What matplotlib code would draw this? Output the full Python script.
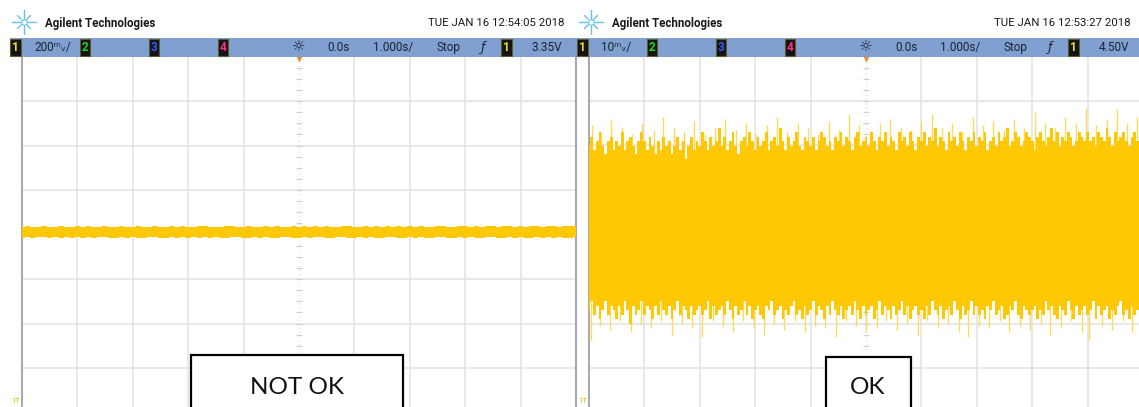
import numpy as np
import matplotlib.pyplot as plt
from matplotlib.patches import Rectangle

W, H = 1139, 407
YELLOW = '#FFC805'
LIGHT = '#FFD95A'

# scope settings (per screen)
left_scale = 200.0   # mV/div
right_scale = 10.0   # mV/div
left_date = 'TUE JAN 16 12:54:05 2018'
right_date = 'TUE JAN 16 12:53:27 2018'
left_vdiv = '200ᵐᵥ/'
right_vdiv = '10ᵐᵥ/'
left_trig = '3.35V'
right_trig = '4.50V'

# left trace envelope (mV), one value per 0.1 s from -5 s to 5 s
left_hi = [34, 36, 33, 35, 37, 34, 32, 36, 35, 33,
           37, 34, 36, 33, 35, 38, 34, 33, 36, 35,
           34, 37, 35, 33, 36, 34, 35, 38, 33, 36,
           35, 34, 37, 36, 33, 35, 34, 36, 38, 35,
           33, 36, 34, 35, 37, 34, 36, 33, 35, 36,
           34, 37, 35, 36, 34, 38, 35, 33, 36, 37,
           35, 34, 36, 33, 37, 35, 36, 34, 38, 35,
           36, 34, 37, 35, 33, 36, 38, 35, 34, 37,
           36, 35, 38, 34, 36, 37, 35, 39, 36, 34,
           37, 35, 38, 36, 34, 37, 36, 35, 38, 36, 37]
left_lo = [-14, -12, -15, -13, -11, -16, -13, -14, -12, -15,
           -13, -16, -12, -14, -13, -11, -15, -14, -12, -16,
           -13, -14, -15, -12, -13, -16, -14, -12, -15, -13,
           -14, -11, -15, -13, -16, -12, -14, -15, -13, -12,
           -15, -14, -12, -16, -13, -14, -15, -12, -13, -16,
           -14, -12, -15, -13, -11, -14, -16, -13, -12, -15,
           -14, -13, -16, -12, -14, -15, -13, -12, -16, -14,
           -13, -15, -12, -14, -16, -13, -12, -15, -14, -13,
           -16, -12, -14, -15, -13, -12, -16, -14, -13, -15,
           -12, -14, -16, -13, -15, -12, -14, -13, -15, -14, -13]

# right trace dense envelope (mV), one value per 0.05 s from -5 s to 5 s
right_hi = [20, 22, 19, 21, 23, 20, 18, 21, 22, 19, 21, 20, 23, 19, 21, 22, 20, 18, 21, 23,
            21, 19, 22, 20, 18, 21, 19, 22, 20, 21, 18, 20, 22, 19, 21, 17, 20, 22, 19, 21,
            20, 23, 21, 19, 22, 20, 21, 24, 20, 22, 19, 21, 23, 20, 18, 21, 22, 20, 23, 21,
            19, 22, 20, 21, 23, 19, 21, 22, 20, 24, 21, 19, 22, 20, 21, 23, 20, 19, 22, 21,
            20, 22, 19, 21, 23, 22, 20, 21, 19, 22, 21, 23, 20, 22, 21, 19, 22, 23, 20, 21,
            22, 20, 23, 21, 19, 22, 21, 23, 20, 22, 21, 19, 23, 21, 22, 20, 23, 21, 19, 22,
            21, 23, 20, 22, 21, 24, 20, 22, 21, 19, 23, 21, 22, 20, 23, 21, 19, 22, 21, 23,
            20, 22, 21, 23, 19, 21, 22, 20, 23, 21, 22, 24, 20, 21, 23, 22, 20, 21, 23, 22,
            21, 19, 22, 23, 21, 20, 22, 24, 21, 23, 20, 22, 21, 23, 22, 20, 21, 23, 22, 21,
            23, 21, 22, 20, 23, 22, 21, 24, 22, 20, 23, 21, 22, 23, 21, 20, 22, 23, 21, 22, 21]
right_lo = [-17, -15, -18, -16, -19, -17, -15, -18, -16, -17, -19, -16, -18, -15, -17, -20, -16, -18, -17, -15,
            -18, -16, -17, -19, -16, -18, -15, -17, -18, -16, -19, -17, -15, -18, -16, -17, -19, -16, -18, -17,
            -16, -18, -17, -15, -19, -16, -18, -17, -16, -18, -15, -17, -19, -16, -18, -17, -15, -18, -16, -19,
            -17, -16, -18, -19, -16, -17, -15, -18, -17, -16, -19, -17, -18, -16, -15, -18, -17, -19, -16, -18,
            -17, -15, -18, -16, -17, -19, -16, -18, -15, -17, -18, -16, -19, -17, -16, -18, -15, -17, -19, -16,
            -18, -17, -16, -19, -17, -15, -18, -16, -17, -19, -16, -18, -17, -15, -18, -16, -19, -17, -16, -18,
            -17, -19, -16, -18, -15, -17, -18, -16, -19, -17, -16, -18, -15, -17, -19, -16, -18, -17, -15, -18,
            -16, -18, -17, -19, -16, -17, -15, -18, -17, -16, -19, -18, -16, -17, -15, -18, -19, -16, -17, -18,
            -17, -16, -19, -17, -18, -15, -17, -16, -18, -19, -16, -17, -18, -15, -17, -19, -16, -18, -17, -16,
            -18, -17, -15, -19, -16, -18, -17, -16, -19, -17, -18, -16, -15, -18, -17, -19, -16, -18, -17, -16, -17]

# faint spikes above / below the dense band (s, mV)
up_t = [-4.95, -4.78, -4.6, -4.41, -4.22, -4.05, -3.83, -3.66, -3.47, -3.28,
        -3.1, -2.91, -2.72, -2.55, -2.34, -2.16, -1.98, -1.79, -1.6, -1.42,
        -1.23, -1.04, -0.86, -0.67, -0.49, -0.3, -0.12, 0.07, 0.26, 0.44,
        0.63, 0.81, 1.0, 1.19, 1.37, 1.56, 1.74, 1.93, 2.12, 2.3,
        2.49, 2.67, 2.86, 3.05, 3.23, 3.42, 3.6, 3.79, 3.98, 4.16,
        4.35, 4.53, 4.72, 4.9]
up_v = [24.5, 23, 26, 24, 22.5, 25, 23.5, 26.5, 24, 23,
        25.5, 22.5, 24, 26, 23.5, 25, 22.5, 24.5, 26.5, 23,
        25, 24, 22.5, 25.5, 23.5, 27, 24.5, 23, 25, 26,
        24, 23.5, 25.5, 27, 24, 25, 23, 26.5, 24.5, 25.5,
        23.5, 26, 24, 27.5, 25, 24, 26.5, 25, 28.5, 24.5,
        26, 28.3, 25, 26.5]
dn_t = [-4.97, -4.8, -4.62, -4.44, -4.25, -4.07, -3.88, -3.7, -3.51, -3.33,
        -3.14, -2.96, -2.77, -2.59, -2.4, -2.22, -2.03, -1.85, -1.66, -1.48,
        -1.29, -1.11, -0.92, -0.74, -0.55, -0.37, -0.18, 0.0, 0.19, 0.37,
        0.56, 0.74, 0.93, 1.11, 1.3, 1.48, 1.67, 1.85, 2.04, 2.22,
        2.41, 2.59, 2.78, 2.96, 3.15, 3.33, 3.52, 3.7, 3.89, 4.03,
        4.26, 4.44, 4.63, 4.81]
dn_v = [-23.8, -20.5, -21.5, -19.5, -22, -20, -21, -19.5, -22.5, -20,
        -21, -23, -19.5, -20.5, -22, -19.5, -21, -22.5, -20, -21.5,
        -19.5, -22, -20.5, -21, -23, -19.5, -20.5, -22, -21, -19.5,
        -21.5, -20, -22.5, -19.5, -21, -20, -22, -23, -20.5, -21,
        -19.5, -22, -20.5, -21.5, -20, -22.5, -21, -19.5, -22, -23.6,
        -20.5, -21.5, -19.5, -22]

# channel markers in the status bar: label, text colour
channels = [('2', '#1ED81E'), ('3', '#2F5BFF'), ('4', '#FF2C8C')]

fig = plt.figure(figsize=(W / 100, H / 100), dpi=100)
fig.patch.set_facecolor('white')


def fx(px):
    return px / W


def fy(py):
    return 1 - py / H


def screen_axes(x0, scale):
    # 10 x 8 divisions, 55.4 x 44.5 px each
    ax = fig.add_axes([fx(x0), fy(56.5 + 8 * 44.5), 10 * 55.4 / W, 8 * 44.5 / H])
    ax.set_xlim(-5, 5)
    ax.set_ylim(-4 * scale, 4 * scale)
    ax.set_xticks([-4, -3, -2, -1, 1, 2, 3, 4])
    ax.set_yticks(np.arange(-3, 4) * scale)
    ax.grid(True, color='#E1E1E1', lw=1.1)
    ax.tick_params(length=0, labelbottom=False, labelleft=False)
    for s in ['top', 'bottom', 'right']:
        ax.spines[s].set_visible(False)
    ax.spines['left'].set_color('#ABABAB')
    ax.spines['left'].set_linewidth(1.5)
    # centre line with quarter-division ticks
    ax.axvline(0, color='#E4E4E4', lw=1.0, ls=(0, (1, 2)))
    qy = np.arange(-16, 17) * scale / 4
    ax.plot(np.zeros(len(qy)), qy, ls='none', marker='_', ms=4, mew=0.8, color='#CFCFCF')
    ax.plot([0], [4 * scale], marker='v', ms=9, color='#F08A1E', mec='none', clip_on=False, zorder=5)
    return ax


axl = screen_axes(22, left_scale)
axl.spines['right'].set_visible(True)
axl.spines['right'].set_color('#9FA9BA')
axl.spines['right'].set_linewidth(1.5)
tl = np.linspace(-5, 5, len(left_hi))
axl.fill_between(tl, left_lo, left_hi, step='mid', color=YELLOW, lw=0, zorder=3)

axr = screen_axes(589, right_scale)
tr = np.linspace(-5, 5, len(right_hi))
axr.vlines(up_t, 0, up_v, color=LIGHT, lw=1.0, zorder=2)
axr.vlines(dn_t, 0, dn_v, color=LIGHT, lw=1.0, zorder=2)
axr.fill_between(tr, right_lo, right_hi, step='mid', color=YELLOW, lw=0, zorder=3)

# status bar
fig.add_artist(Rectangle((fx(10), fy(57)), fx(W) - fx(10), 19 / H, transform=fig.transFigure,
                         fc='#7FA0D1', ec='none', zorder=1))

bar_y = fy(47.5)
fnt = 'Roboto'


def chan_box(x, label, color):
    fig.text(fx(x), bar_y, label, color=color, fontsize=8.5, fontweight='bold', family=fnt,
             ha='center', va='center', zorder=4,
             bbox=dict(boxstyle='square,pad=0.15', fc='#141414', ec='#5E5A2A', lw=0.8))


def star(cx, cy):
    a = fig.add_axes([fx(cx - 13), fy(cy + 13), 26 / W, 26 / H])
    a.set_xlim(-1, 1)
    a.set_ylim(-1, 1)
    a.axis('off')
    for k in range(8):
        ang = k * np.pi / 4
        r = 0.95 if k % 2 == 0 else 0.7
        a.plot([0.3 * np.cos(ang), r * np.cos(ang)], [0.3 * np.sin(ang), r * np.sin(ang)],
               color='#67BFE6', lw=1.0, solid_capstyle='round')
    a.plot([0], [0], marker='o', ms=4, mfc='white', mec='#67BFE6', mew=0.8)


for off, vdiv, trig, date in [(0, left_vdiv, left_trig, left_date), (567, right_vdiv, right_trig, right_date)]:
    star(24 + off, 22)
    fig.text(fx(45 + off), fy(23), 'Agilent Technologies', fontsize=8.3, fontweight='bold',
             family=fnt, color='#1A1A1A', ha='left', va='center')
    fig.text(fx(564 + off), fy(23), date, fontsize=8.2, family=fnt, color='#1A1A1A',
             ha='right', va='center')
    chan_box(15.5 + off, '1', '#F2E01E')
    fig.text(fx(34 + off), bar_y, vdiv, fontsize=8.5, family=[fnt, 'DejaVu Sans'], color='#1C2230',
             ha='left', va='center', zorder=4)
    for (lab, col), x in zip(channels, [85, 154, 223]):
        chan_box(x + off, lab, col)
    fig.text(fx(299 + off), bar_y, '☼', fontsize=11, family='DejaVu Sans', color='#1C2230',
             ha='center', va='center', zorder=4)
    fig.text(fx(339 + off), bar_y, '0.0s', fontsize=8.5, family=fnt, color='#1C2230',
             ha='center', va='center', zorder=4)
    fig.text(fx(393.5 + off), bar_y, '1.000s/', fontsize=8.5, family=fnt, color='#1C2230',
             ha='center', va='center', zorder=4)
    fig.text(fx(448 + off), bar_y, 'Stop', fontsize=8.5, family=fnt, color='#1C2230',
             ha='center', va='center', zorder=4)
    fig.text(fx(483 + off), bar_y, 'ƒ', fontsize=9, family='DejaVu Sans', style='italic',
             color='#1C2230', ha='center', va='center', zorder=4)
    chan_box(506.5 + off, '1', '#F2E01E')
    fig.text(fx(547 + off), bar_y, trig, fontsize=8.5, family=fnt, color='#1C2230',
             ha='center', va='center', zorder=4)

# ground markers
for x in [16, 583]:
    fig.text(fx(x), fy(401), '1T', fontsize=5.5, family=fnt, color='#E8B400', ha='center',
             va='center', zorder=4)

# annotation boxes
for x0, x1, y0, label, cx in [(191, 403, 355, 'NOT OK', 297), (826, 911, 357, 'OK', 868)]:
    fig.add_artist(Rectangle((fx(x0), fy(H + 10)), (x1 - x0) / W, (H + 10 - y0) / H,
                             transform=fig.transFigure, fc='white', ec='black', lw=1.6, zorder=6))
    fig.text(fx(cx), fy(387), label, fontsize=17.5, family='Lato', color='#111111',
             ha='center', va='center', zorder=7)

fig.savefig('out.png', dpi=100)
